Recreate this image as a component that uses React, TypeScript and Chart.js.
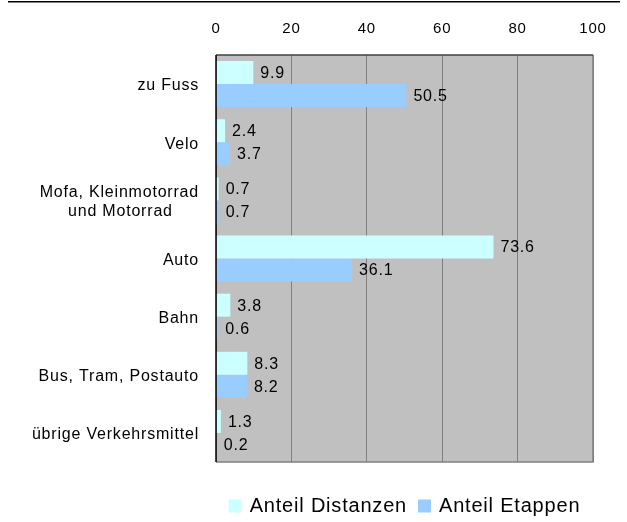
import React, { useEffect, useRef } from 'react';
import { Chart, registerables } from 'chart.js';

Chart.register(...registerables);

const NB = '\u00a0';
const categories: (string | string[])[] = [
  'zu Fuss',
  'Velo',
  ['Mofa, Kleinmotorrad', 'und Motorrad' + NB.repeat(5)],
  'Auto',
  'Bahn',
  'Bus, Tram, Postauto',
  'übrige Verkehrsmittel',
];
const anteilDistanzen = [9.9, 2.4, 0.7, 73.6, 3.8, 8.3, 1.3];
const anteilEtappen = [50.5, 3.7, 0.7, 36.1, 0.6, 8.2, 0.2];
const seriesNames = ['Anteil Distanzen', 'Anteil Etappen'];
const seriesColors = ['#CCFFFF', '#99CCFF'];
const xMin = 0;
const xMax = 100;
const xStep = 20;

const FONT = '"Liberation Sans", Arial, sans-serif';

const decorPlugin = {
  id: 'decor',
  beforeDraw(chart: any) {
    const { ctx, chartArea: a } = chart;
    (ctx as any).letterSpacing = '0.8px';
    ctx.save();
    ctx.fillStyle = '#C0C0C0';
    ctx.fillRect(a.left, a.top, a.right - a.left, a.bottom - a.top);
    ctx.strokeStyle = '#000';
    ctx.lineWidth = 1.5;
    ctx.beginPath();
    ctx.moveTo(8, 1.75);
    ctx.lineTo(620, 1.75);
    ctx.stroke();
    ctx.restore();
  },
  afterDatasetsDraw(chart: any) {
    const { ctx, chartArea: a } = chart;
    ctx.save();
    ctx.lineWidth = 1.5;
    ctx.strokeStyle = '#808080';
    ctx.beginPath();
    ctx.moveTo(a.right, a.top);
    ctx.lineTo(a.right, a.bottom);
    ctx.lineTo(a.left, a.bottom);
    ctx.stroke();
    ctx.strokeStyle = '#404040';
    ctx.beginPath();
    ctx.moveTo(a.left, a.top);
    ctx.lineTo(a.right, a.top);
    ctx.stroke();
    ctx.strokeStyle = '#000';
    ctx.beginPath();
    ctx.moveTo(a.left, a.top);
    ctx.lineTo(a.left, a.bottom);
    ctx.stroke();
    // value labels
    ctx.font = '16px ' + FONT;
    ctx.fillStyle = '#000';
    ctx.textAlign = 'left';
    ctx.textBaseline = 'middle';
    chart.data.datasets.forEach((ds: any, i: number) => {
      const meta = chart.getDatasetMeta(i);
      meta.data.forEach((bar: any, j: number) => {
        ctx.fillText(Number(ds.data[j]).toFixed(1), bar.x + 7, bar.y + 1);
      });
    });
    ctx.restore();
  },
  afterDraw(chart: any) {
    const { ctx, chartArea: a } = chart;
    ctx.save();
    ctx.font = '20px ' + FONT;
    ctx.textAlign = 'left';
    ctx.textBaseline = 'middle';
    const box = 13;
    const gap = 8;
    const itemGap = 11;
    const ds = chart.data.datasets;
    const widths = ds.map((d: any) => ctx.measureText(d.label).width);
    const total = widths.reduce((s: number, w: number) => s + box + gap + w, 0) + itemGap * (ds.length - 1);
    let x = (a.left + a.right) / 2 - total / 2;
    const cy = 506;
    ds.forEach((d: any, i: number) => {
      ctx.fillStyle = d.backgroundColor;
      ctx.fillRect(x, cy - box / 2, box, box);
      x += box + gap;
      ctx.fillStyle = '#000';
      ctx.fillText(d.label, x, cy);
      x += widths[i] + itemGap;
    });
    ctx.restore();
  },
};

export default function App() {
  const ref = useRef<HTMLCanvasElement | null>(null);

  useEffect(() => {
    document.body.style.margin = '0';
    const canvas = ref.current;
    if (!canvas) return;
    Chart.defaults.font.family = FONT;
    Chart.defaults.color = '#000';
    const chart = new Chart(canvas, {
      type: 'bar',
      data: {
        labels: categories as any,
        datasets: [
          {
            label: seriesNames[0],
            data: anteilDistanzen,
            backgroundColor: seriesColors[0],
            borderWidth: 0,
            categoryPercentage: 0.79,
            barPercentage: 1,
          },
          {
            label: seriesNames[1],
            data: anteilEtappen,
            backgroundColor: seriesColors[1],
            borderWidth: 0,
            categoryPercentage: 0.79,
            barPercentage: 1,
          },
        ],
      },
      options: {
        indexAxis: 'y',
        animation: false,
        responsive: false,
        devicePixelRatio: 1,
        layout: { padding: { left: 0, right: 34, top: 0, bottom: 60 } },
        scales: {
          x: {
            position: 'top',
            min: xMin,
            max: xMax,
            ticks: { stepSize: xStep, padding: 17, font: { size: 15 }, color: '#000' },
            grid: { color: '#808080', lineWidth: 1, drawTicks: false },
            border: { display: false },
            afterFit(scale: any) {
              scale.height = 55;
            },
          },
          y: {
            ticks: { padding: 17, labelOffset: 2, font: { size: 16 }, color: '#000' },
            grid: { display: false, drawTicks: false },
            border: { display: false },
            afterFit(scale: any) {
              scale.width = 216;
            },
          },
        },
        plugins: {
          legend: { display: false },
          tooltip: { enabled: false },
        },
      },
      plugins: [decorPlugin],
    } as any);
    return () => chart.destroy();
  }, []);

  return (
    <div style={{ width: 627, height: 522 }}>
      <canvas ref={ref} width={627} height={522} style={{ display: 'block' }} />
    </div>
  );
}
